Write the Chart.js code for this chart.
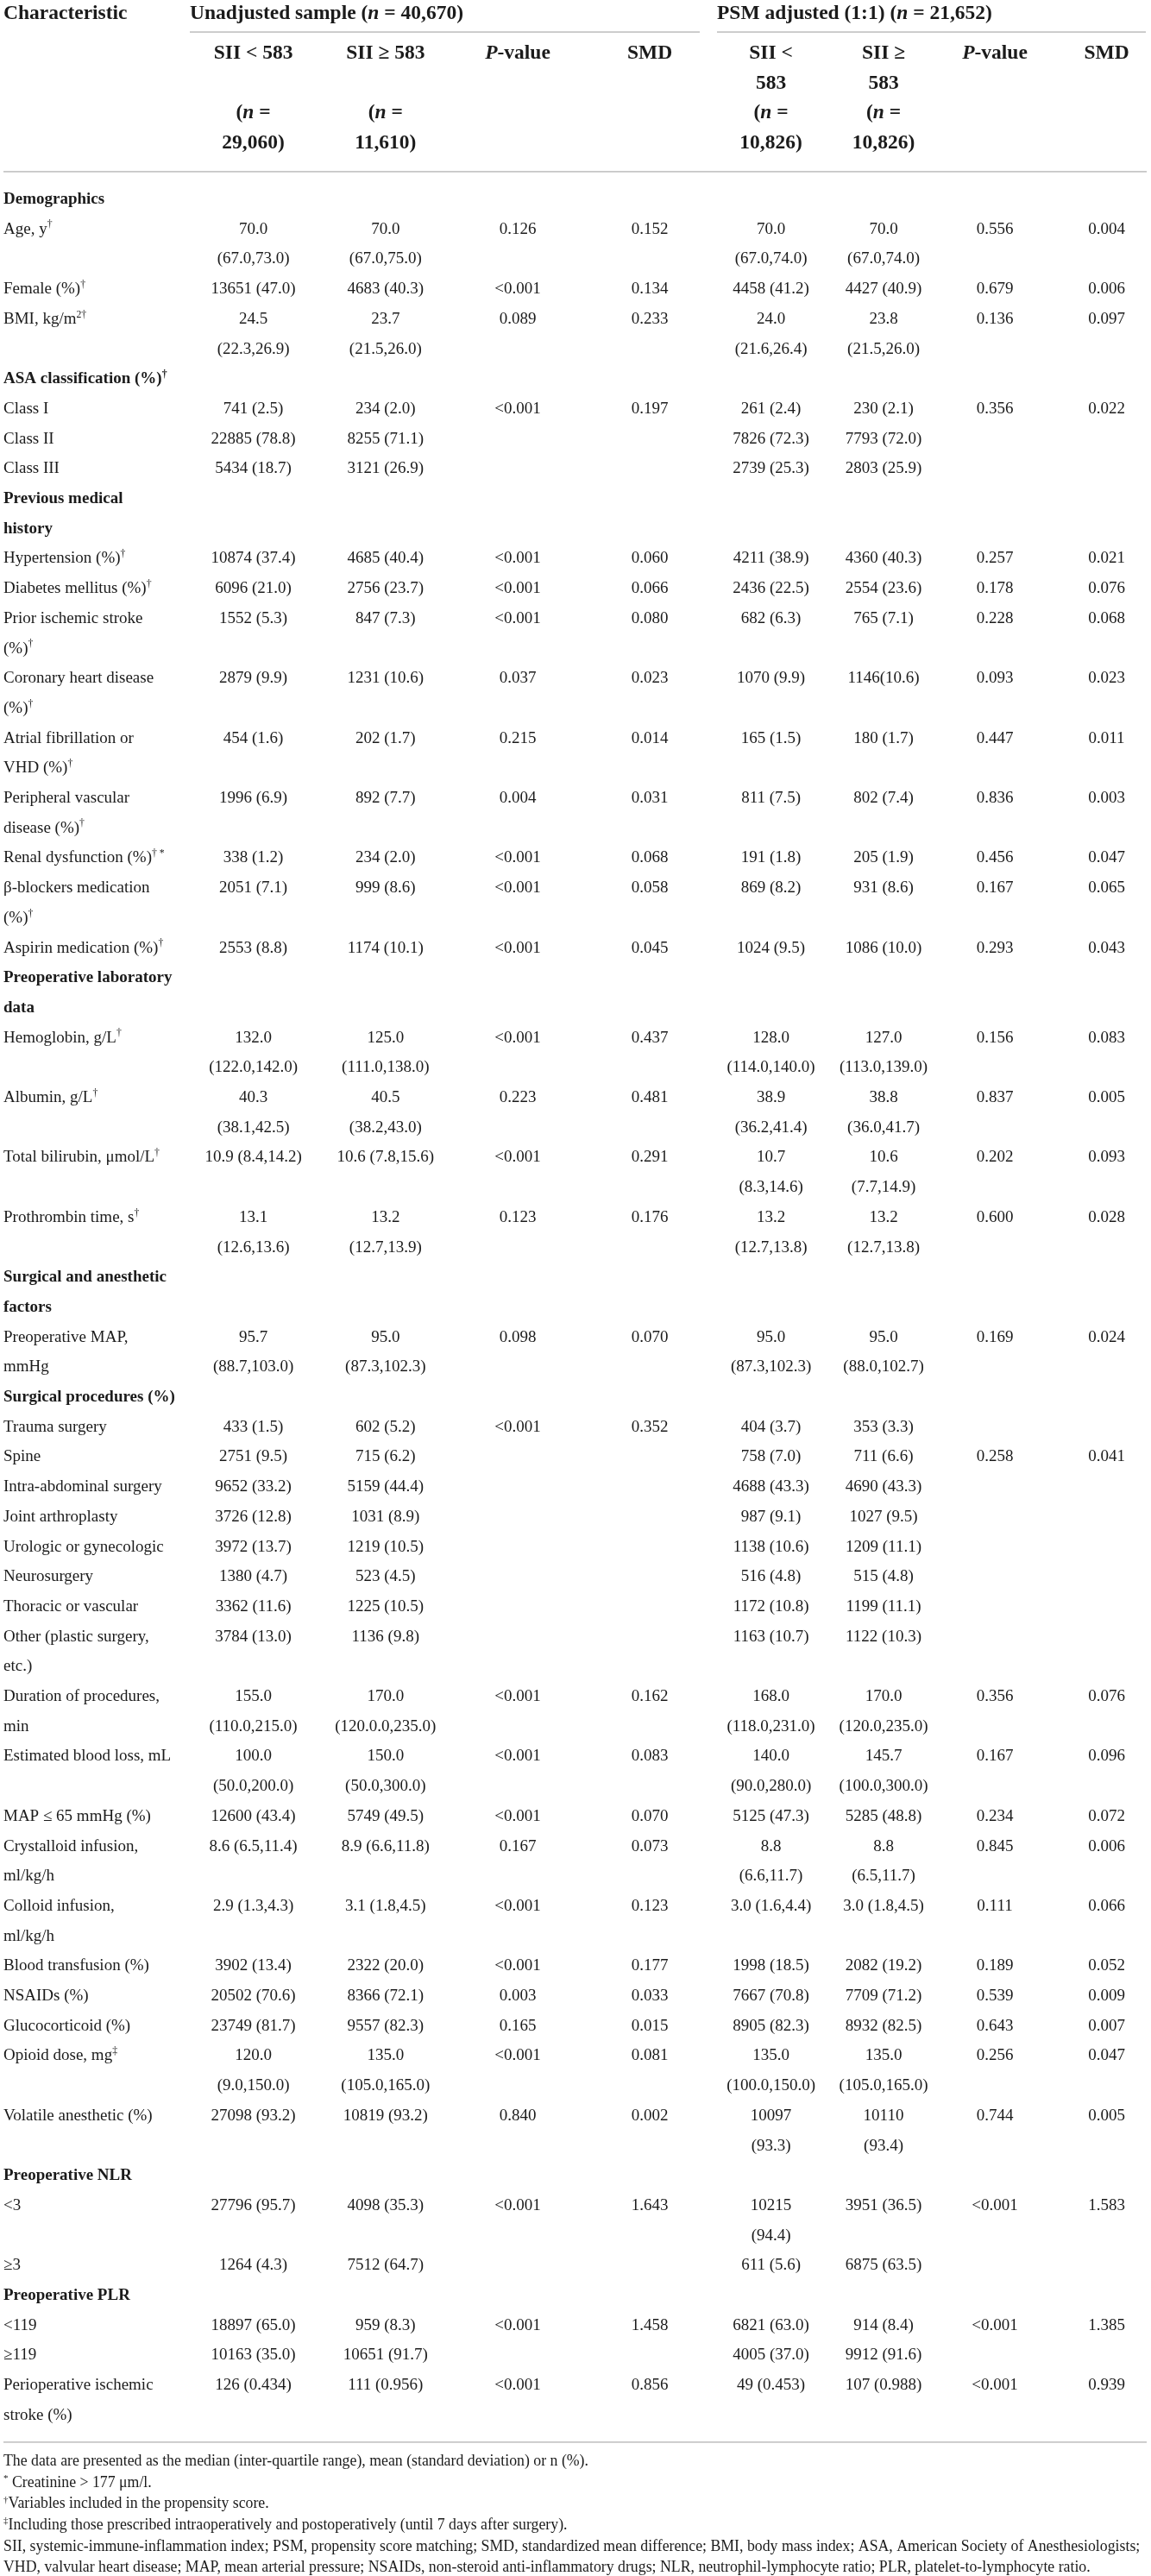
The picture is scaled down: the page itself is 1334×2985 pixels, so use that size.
<!DOCTYPE html>
<html>
<head>
<meta charset="utf-8">
<title>Baseline characteristics by SII</title>
<script src="https://cdn.jsdelivr.net/npm/chart.js@4.4.0/dist/chart.umd.min.js"></script>
<style>
  html, body { margin: 0; padding: 0; background: #ffffff; }
  #wrap { position: relative; width: 1334px; height: 2985px; }
</style>
</head>
<body>
<div id="wrap"><canvas id="table"></canvas></div>
<script>
// ---------------- DATA ----------------
// markup: _..._ italic, ^...^ superscript, \n line break
const headerGroups = ['Unadjusted sample (_n_ = 40,670)', 'PSM adjusted (1:1) (_n_ = 21,652)'];
const columnHeaders = [
  'Characteristic',
  'SII < 583\n\n(_n_ =\n29,060)',
  'SII ≥ 583\n\n(_n_ =\n11,610)',
  '_P_-value',
  'SMD',
  'SII <\n583\n(_n_ =\n10,826)',
  'SII ≥\n583\n(_n_ =\n10,826)',
  '_P_-value',
  'SMD'
];

const characteristics = [
  'Demographics',
  'Age, y^†^',
  'Female (%)^†^',
  'BMI, kg/m^2†^',
  'ASA classification (%)^†^',
  'Class I',
  'Class II',
  'Class III',
  'Previous medical\nhistory',
  'Hypertension (%)^†^',
  'Diabetes mellitus (%)^†^',
  'Prior ischemic stroke\n(%)^†^',
  'Coronary heart disease\n(%)^†^',
  'Atrial fibrillation or\nVHD (%)^†^',
  'Peripheral vascular\ndisease (%)^†^',
  'Renal dysfunction (%)^† *^',
  'β-blockers medication\n(%)^†^',
  'Aspirin medication (%)^†^',
  'Preoperative laboratory\ndata',
  'Hemoglobin, g/L^†^',
  'Albumin, g/L^†^',
  'Total bilirubin, μmol/L^†^',
  'Prothrombin time, s^†^',
  'Surgical and anesthetic\nfactors',
  'Preoperative MAP,\nmmHg',
  'Surgical procedures (%)',
  'Trauma surgery',
  'Spine',
  'Intra-abdominal surgery',
  'Joint arthroplasty',
  'Urologic or gynecologic',
  'Neurosurgery',
  'Thoracic or vascular',
  'Other (plastic surgery,\netc.)',
  'Duration of procedures,\nmin',
  'Estimated blood loss, mL',
  'MAP ≤ 65 mmHg (%)',
  'Crystalloid infusion,\nml/kg/h',
  'Colloid infusion,\nml/kg/h',
  'Blood transfusion (%)',
  'NSAIDs (%)',
  'Glucocorticoid (%)',
  'Opioid dose, mg^‡^',
  'Volatile anesthetic (%)',
  'Preoperative NLR',
  '<3',
  '≥3',
  'Preoperative PLR',
  '<119',
  '≥119',
  'Perioperative ischemic\nstroke (%)'
];

const groupHeadings = [
  'Demographics', 'ASA classification (%)^†^', 'Previous medical\nhistory',
  'Preoperative laboratory\ndata', 'Surgical and anesthetic\nfactors',
  'Surgical procedures (%)', 'Preoperative NLR', 'Preoperative PLR'
];

const unadjLow = [
  '', '70.0\n(67.0,73.0)', '13651 (47.0)', '24.5\n(22.3,26.9)',
  '', '741 (2.5)', '22885 (78.8)', '5434 (18.7)',
  '', '10874 (37.4)', '6096 (21.0)', '1552 (5.3)', '2879 (9.9)', '454 (1.6)', '1996 (6.9)', '338 (1.2)', '2051 (7.1)', '2553 (8.8)',
  '', '132.0\n(122.0,142.0)', '40.3\n(38.1,42.5)', '10.9 (8.4,14.2)', '13.1\n(12.6,13.6)',
  '', '95.7\n(88.7,103.0)',
  '', '433 (1.5)', '2751 (9.5)', '9652 (33.2)', '3726 (12.8)', '3972 (13.7)', '1380 (4.7)', '3362 (11.6)', '3784 (13.0)',
  '155.0\n(110.0,215.0)', '100.0\n(50.0,200.0)', '12600 (43.4)', '8.6 (6.5,11.4)', '2.9 (1.3,4.3)', '3902 (13.4)', '20502 (70.6)', '23749 (81.7)', '120.0\n(9.0,150.0)', '27098 (93.2)',
  '', '27796 (95.7)', '1264 (4.3)',
  '', '18897 (65.0)', '10163 (35.0)', '126 (0.434)'
];
const unadjHigh = [
  '', '70.0\n(67.0,75.0)', '4683 (40.3)', '23.7\n(21.5,26.0)',
  '', '234 (2.0)', '8255 (71.1)', '3121 (26.9)',
  '', '4685 (40.4)', '2756 (23.7)', '847 (7.3)', '1231 (10.6)', '202 (1.7)', '892 (7.7)', '234 (2.0)', '999 (8.6)', '1174 (10.1)',
  '', '125.0\n(111.0,138.0)', '40.5\n(38.2,43.0)', '10.6 (7.8,15.6)', '13.2\n(12.7,13.9)',
  '', '95.0\n(87.3,102.3)',
  '', '602 (5.2)', '715 (6.2)', '5159 (44.4)', '1031 (8.9)', '1219 (10.5)', '523 (4.5)', '1225 (10.5)', '1136 (9.8)',
  '170.0\n(120.0.0,235.0)', '150.0\n(50.0,300.0)', '5749 (49.5)', '8.9 (6.6,11.8)', '3.1 (1.8,4.5)', '2322 (20.0)', '8366 (72.1)', '9557 (82.3)', '135.0\n(105.0,165.0)', '10819 (93.2)',
  '', '4098 (35.3)', '7512 (64.7)',
  '', '959 (8.3)', '10651 (91.7)', '111 (0.956)'
];
const unadjP = [
  '', '0.126', '<0.001', '0.089',
  '', '<0.001', '', '',
  '', '<0.001', '<0.001', '<0.001', '0.037', '0.215', '0.004', '<0.001', '<0.001', '<0.001',
  '', '<0.001', '0.223', '<0.001', '0.123',
  '', '0.098',
  '', '<0.001', '', '', '', '', '', '', '',
  '<0.001', '<0.001', '<0.001', '0.167', '<0.001', '<0.001', '0.003', '0.165', '<0.001', '0.840',
  '', '<0.001', '',
  '', '<0.001', '', '<0.001'
];
const unadjSMD = [
  '', '0.152', '0.134', '0.233',
  '', '0.197', '', '',
  '', '0.060', '0.066', '0.080', '0.023', '0.014', '0.031', '0.068', '0.058', '0.045',
  '', '0.437', '0.481', '0.291', '0.176',
  '', '0.070',
  '', '0.352', '', '', '', '', '', '', '',
  '0.162', '0.083', '0.070', '0.073', '0.123', '0.177', '0.033', '0.015', '0.081', '0.002',
  '', '1.643', '',
  '', '1.458', '', '0.856'
];
const psmLow = [
  '', '70.0\n(67.0,74.0)', '4458 (41.2)', '24.0\n(21.6,26.4)',
  '', '261 (2.4)', '7826 (72.3)', '2739 (25.3)',
  '', '4211 (38.9)', '2436 (22.5)', '682 (6.3)', '1070 (9.9)', '165 (1.5)', '811 (7.5)', '191 (1.8)', '869 (8.2)', '1024 (9.5)',
  '', '128.0\n(114.0,140.0)', '38.9\n(36.2,41.4)', '10.7\n(8.3,14.6)', '13.2\n(12.7,13.8)',
  '', '95.0\n(87.3,102.3)',
  '', '404 (3.7)', '758 (7.0)', '4688 (43.3)', '987 (9.1)', '1138 (10.6)', '516 (4.8)', '1172 (10.8)', '1163 (10.7)',
  '168.0\n(118.0,231.0)', '140.0\n(90.0,280.0)', '5125 (47.3)', '8.8\n(6.6,11.7)', '3.0 (1.6,4.4)', '1998 (18.5)', '7667 (70.8)', '8905 (82.3)', '135.0\n(100.0,150.0)', '10097\n(93.3)',
  '', '10215\n(94.4)', '611 (5.6)',
  '', '6821 (63.0)', '4005 (37.0)', '49 (0.453)'
];
const psmHigh = [
  '', '70.0\n(67.0,74.0)', '4427 (40.9)', '23.8\n(21.5,26.0)',
  '', '230 (2.1)', '7793 (72.0)', '2803 (25.9)',
  '', '4360 (40.3)', '2554 (23.6)', '765 (7.1)', '1146(10.6)', '180 (1.7)', '802 (7.4)', '205 (1.9)', '931 (8.6)', '1086 (10.0)',
  '', '127.0\n(113.0,139.0)', '38.8\n(36.0,41.7)', '10.6\n(7.7,14.9)', '13.2\n(12.7,13.8)',
  '', '95.0\n(88.0,102.7)',
  '', '353 (3.3)', '711 (6.6)', '4690 (43.3)', '1027 (9.5)', '1209 (11.1)', '515 (4.8)', '1199 (11.1)', '1122 (10.3)',
  '170.0\n(120.0,235.0)', '145.7\n(100.0,300.0)', '5285 (48.8)', '8.8\n(6.5,11.7)', '3.0 (1.8,4.5)', '2082 (19.2)', '7709 (71.2)', '8932 (82.5)', '135.0\n(105.0,165.0)', '10110\n(93.4)',
  '', '3951 (36.5)', '6875 (63.5)',
  '', '914 (8.4)', '9912 (91.6)', '107 (0.988)'
];
const psmP = [
  '', '0.556', '0.679', '0.136',
  '', '0.356', '', '',
  '', '0.257', '0.178', '0.228', '0.093', '0.447', '0.836', '0.456', '0.167', '0.293',
  '', '0.156', '0.837', '0.202', '0.600',
  '', '0.169',
  '', '', '0.258', '', '', '', '', '', '',
  '0.356', '0.167', '0.234', '0.845', '0.111', '0.189', '0.539', '0.643', '0.256', '0.744',
  '', '<0.001', '',
  '', '<0.001', '', '<0.001'
];
const psmSMD = [
  '', '0.004', '0.006', '0.097',
  '', '0.022', '', '',
  '', '0.021', '0.076', '0.068', '0.023', '0.011', '0.003', '0.047', '0.065', '0.043',
  '', '0.083', '0.005', '0.093', '0.028',
  '', '0.024',
  '', '', '0.041', '', '', '', '', '', '',
  '0.076', '0.096', '0.072', '0.006', '0.066', '0.052', '0.009', '0.007', '0.047', '0.005',
  '', '1.583', '',
  '', '1.385', '', '0.939'
];

const footnotes = [
  'The data are presented as the median (inter-quartile range), mean (standard deviation) or n (%).',
  '^*^ Creatinine > 177 μm/l.',
  '^†^Variables included in the propensity score.',
  '^‡^Including those prescribed intraoperatively and postoperatively (until 7 days after surgery).',
  'SII, systemic-immune-inflammation index; PSM, propensity score matching; SMD, standardized mean difference; BMI, body mass index; ASA, American Society of Anesthesiologists;',
  'VHD, valvular heart disease; MAP, mean arterial pressure; NSAIDs, non-steroid anti-inflammatory drugs; NLR, neutrophil-lymphocyte ratio; PLR, platelet-to-lymphocyte ratio.'
];

// ---------------- LAYOUT / STYLE ----------------
const columnData = [characteristics, unadjLow, unadjHigh, unadjP, unadjSMD, psmLow, psmHigh, psmP, psmSMD];
const LAYOUT = {
  width: 1334, height: 2985,
  colX: [4, 293.6, 446.8, 600, 753, 893.6, 1024, 1153, 1282.5],
  groupX: [220, 831],
  groupRules: [[220, 811], [831, 1328]],
  fullRule: [4, 1329],
  linePx: 34.7,        // one body line
  firstLinePx: 236,    // baseline of body line 1
  titleLine: -5.17,    // group titles / "Characteristic"
  headLine: -3.84,     // first header sub-line
  ruleTop: -4.73, ruleMid: -0.07, ruleBottom: 75.75,
  noteLine: 76.53, noteStep: 0.712
};
const STYLE = {
  family: '"Liberation Serif", "Times New Roman", Times, serif',
  body: 19, head: 23.5, note: 17.8,
  ink: '#1b1b1b', rule: '#c6c6c6', ruleWidth: 1.6
};

// line-unit y scale bounds so that line v sits at firstLinePx + (v-1)*linePx
const yMin = 1 - LAYOUT.firstLinePx / LAYOUT.linePx;
const yMax = yMin + LAYOUT.height / LAYOUT.linePx;

// row start lines
const lineCount = s => s.split('\n').length;
const rowStart = [];
(function () {
  let cur = 1;
  characteristics.forEach((_, i) => {
    rowStart.push(cur);
    let m = 1;
    columnData.forEach(col => { m = Math.max(m, lineCount(col[i] || '')); });
    cur += m;
  });
})();

function parseRuns(line) {
  const runs = []; let it = false, sup = false, buf = '';
  for (const ch of line) {
    if (ch === '_' || ch === '^') {
      if (buf) runs.push({ t: buf, it, sup });
      buf = '';
      if (ch === '_') it = !it; else sup = !sup;
    } else buf += ch;
  }
  if (buf) runs.push({ t: buf, it, sup });
  return runs;
}
function fontFor(r, size, bold) {
  const s = r.sup ? size * 0.62 : size;
  return (r.it ? 'italic ' : '') + (bold ? 'bold ' : '') + s.toFixed(2) + 'px ' + STYLE.family;
}
function drawRich(ctx, line, x, y, align, size, bold) {
  const runs = parseRuns(line);
  let w = 0;
  runs.forEach(r => { ctx.font = fontFor(r, size, bold); r.w = ctx.measureText(r.t).width; w += r.w; });
  let cx = align === 'center' ? x - w / 2 : x;
  runs.forEach(r => {
    ctx.font = fontFor(r, size, bold);
    ctx.fillText(r.t, cx, r.sup ? y - size * 0.38 : y);
    cx += r.w;
  });
}
function drawCell(ctx, text, x, y, lh, align, size, bold) {
  text.split('\n').forEach((ln, k) => { if (ln) drawRich(ctx, ln, x, y + k * lh, align, size, bold); });
}

const tablePlugin = {
  id: 'tableText',
  afterDraw(chart) {
    const ctx = chart.ctx;
    const xs = chart.scales.x, ys = chart.scales.y;
    const lh = ys.getPixelForValue(2) - ys.getPixelForValue(1);
    ctx.save();
    ctx.fillStyle = STYLE.ink;
    ctx.textAlign = 'left';
    ctx.textBaseline = 'alphabetic';

    // rules
    ctx.strokeStyle = STYLE.rule;
    ctx.lineWidth = STYLE.ruleWidth;
    const hline = (x0, x1, v) => {
      const y = ys.getPixelForValue(v);
      ctx.beginPath(); ctx.moveTo(xs.getPixelForValue(x0), y); ctx.lineTo(xs.getPixelForValue(x1), y); ctx.stroke();
    };
    LAYOUT.groupRules.forEach(g => hline(g[0], g[1], LAYOUT.ruleTop));
    hline(LAYOUT.fullRule[0], LAYOUT.fullRule[1], LAYOUT.ruleMid);
    hline(LAYOUT.fullRule[0], LAYOUT.fullRule[1], LAYOUT.ruleBottom);

    // titles
    const ty = ys.getPixelForValue(LAYOUT.titleLine);
    drawRich(ctx, columnHeaders[0], xs.getPixelForValue(LAYOUT.colX[0]), ty, 'left', STYLE.head, true);
    headerGroups.forEach((g, i) => drawRich(ctx, g, xs.getPixelForValue(LAYOUT.groupX[i]), ty, 'left', STYLE.head, true));
    const hy = ys.getPixelForValue(LAYOUT.headLine);
    columnHeaders.slice(1).forEach((h, i) => drawCell(ctx, h, xs.getPixelForValue(LAYOUT.colX[i + 1]), hy, lh, 'center', STYLE.head, true));

    // body cells, positioned by the dataset elements
    chart.data.datasets.forEach((ds, j) => {
      const meta = chart.getDatasetMeta(j);
      meta.data.forEach((el, i) => {
        const txt = columnData[j][i];
        if (!txt) return;
        const bold = j === 0 && groupHeadings.includes(txt);
        drawCell(ctx, txt, el.x, el.y, lh, j === 0 ? 'left' : 'center', STYLE.body, bold);
      });
    });

    // footnotes
    footnotes.forEach((f, k) => {
      drawRich(ctx, f, xs.getPixelForValue(LAYOUT.colX[0]), ys.getPixelForValue(LAYOUT.noteLine + k * LAYOUT.noteStep), 'left', STYLE.note, false);
    });
    ctx.restore();
  }
};

const datasets = columnData.map((col, j) => ({
  label: columnHeaders[j],
  data: col.map((_, i) => ({ x: LAYOUT.colX[j], y: rowStart[i] })),
  pointRadius: 0, pointHoverRadius: 0, showLine: false
}));

new Chart(document.getElementById('table'), {
  type: 'scatter',
  data: { datasets },
  options: {
    responsive: true, maintainAspectRatio: false, animation: false,
    layout: { padding: 0 },
    events: [],
    plugins: { legend: { display: false }, tooltip: { enabled: false }, title: { display: false } },
    scales: {
      x: { type: 'linear', display: false, min: 0, max: LAYOUT.width },
      y: { type: 'linear', display: false, reverse: true, min: yMin, max: yMax }
    }
  },
  plugins: [tablePlugin]
});
</script>
</body>
</html>
